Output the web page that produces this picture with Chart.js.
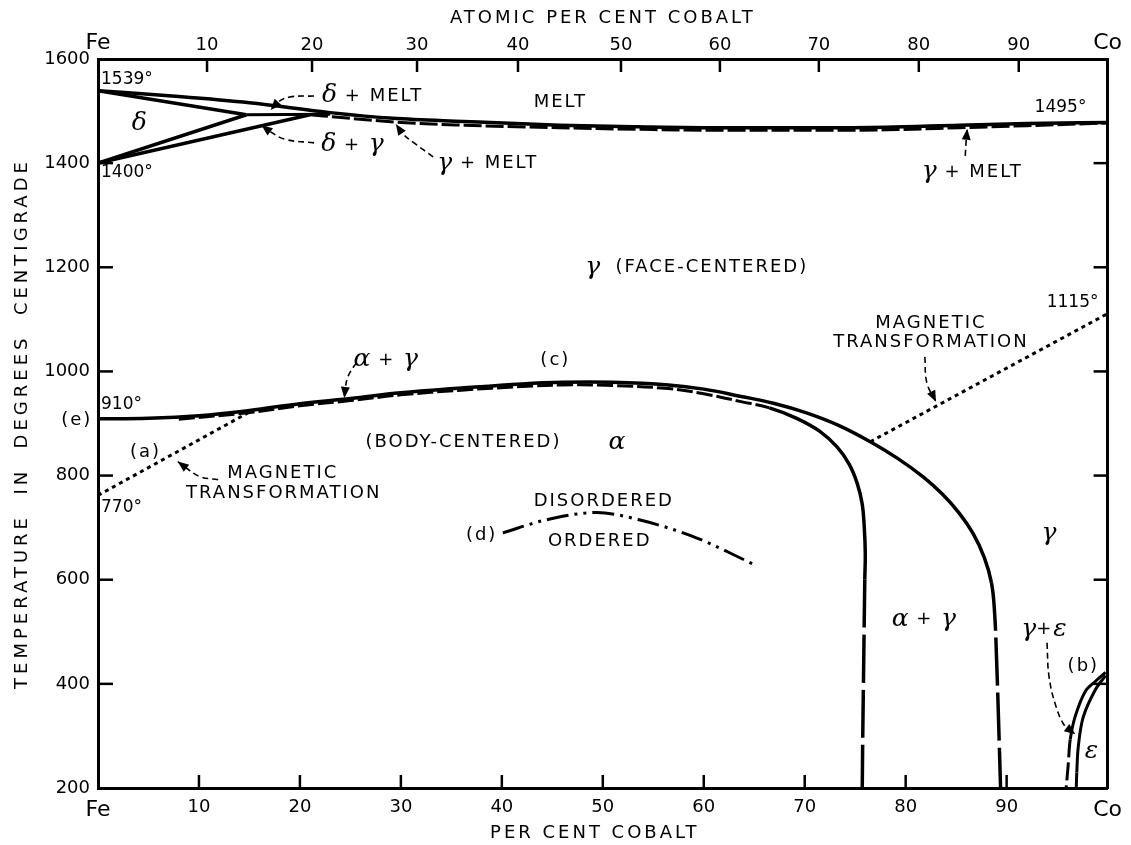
<!DOCTYPE html>
<html>
<head>
<meta charset="utf-8">
<script src="https://cdn.jsdelivr.net/npm/chart.js@4.4.1/dist/chart.umd.min.js"></script>
<style>
  html, body { margin: 0; padding: 0; background: #fff; }
  #wrap { width: 1131px; height: 845px; position: relative; }
</style>
</head>
<body>
<div id="wrap"><canvas id="phaseChart"></canvas></div>
<script>
// axes: per cent cobalt (weight) and temperature in degrees C
const bottomTicks = [0, 10, 20, 30, 40, 50, 60, 70, 80, 90, 100];
const bottomLabels = ['Fe', '10', '20', '30', '40', '50', '60', '70', '80', '90', 'Co'];
// atomic per cent ticks, placed on the weight per cent scale
const topTickPos = [0, 10.8, 21.2, 31.6, 41.6, 51.8, 61.6, 71.4, 81.3, 91.2, 100];
const topLabels = ['Fe', '10', '20', '30', '40', '50', '60', '70', '80', '90', 'Co'];
const tempTicks = [200, 400, 600, 800, 1000, 1200, 1400, 1600];

// melting region
const liquidusX = [0, 8, 15, 23, 29.2, 36.2, 45.7, 53.4, 62, 70.9, 78, 85.3, 92, 100];
const liquidusT = [1539, 1528, 1516, 1497, 1486, 1480, 1473, 1470, 1468, 1468, 1469, 1473, 1476, 1478];
const deltaSolidusX = [0, 14.7];
const deltaSolidusT = [1539, 1493];
const deltaUpperX = [0, 14.7];
const deltaUpperT = [1400, 1493];
const gammaLowerX = [0, 21];
const gammaLowerT = [1400, 1493];
const peritecticX = [14.7, 23];
const peritecticT = [1493, 1494];
const gammaSolidusX = [21, 25, 30, 36, 45.7, 53.4, 62, 70.9, 78, 85.3, 92, 100];
const gammaSolidusT = [1493, 1486, 1478, 1473, 1468, 1465, 1463, 1463, 1464, 1468, 1472, 1477];

// alpha / gamma boundaries (dashed where the line is uncertain)
const outerX = [0, 5, 10, 15, 20, 25, 30, 36, 42, 46, 51, 56.5, 60, 63.7, 66.9, 70.1, 73.3, 76.5, 79.2, 81.7, 83.6, 85.3, 86.7, 87.8, 88.5, 88.8, 89.0, 89.2, 89.4];
const outerT = [909, 910, 915, 925, 938, 948, 959, 968, 976, 979, 979, 974, 966, 952, 939, 921, 897, 865, 833, 798, 765, 728, 688, 642, 594, 539, 450, 330, 200];
const innerX = [8, 15, 20, 25, 30, 36, 42, 46, 51, 56.5, 60, 63.7, 66.5, 69.2, 71.5, 73.2, 74.4, 75.2, 75.7, 75.9, 76.0, 75.95, 75.85, 75.75, 75.7];
const innerT = [908, 921, 934, 944, 955, 964, 971, 974, 973, 967, 957, 942, 930, 910, 885, 855, 822, 785, 745, 700, 650, 600, 450, 300, 200];

// magnetic transformation
const magLeftX = [0, 15];
const magLeftT = [762, 922];
const magRightX = [76.5, 100];
const magRightT = [865, 1111];

// order - disorder
const orderX = [40.1, 44.4, 49.4, 53.6, 59.2, 65.0];
const orderT = [690, 715, 729, 715, 681, 629];

// epsilon
const epsOuterX = [99.8, 98.8, 97.8, 96.8, 96.3, 96.1, 95.9];
const epsOuterT = [422, 405, 386, 338, 293, 245, 201];
const epsInnerX = [99.8, 98.8, 97.6, 97.1, 96.95, 96.9];
const epsInnerT = [416, 389, 337, 280, 230, 201];

// leader arrows (last point = tip)
const arrows = [
  { x: [21.4, 19.0, 17.8, 17.1], t: [1529, 1527, 1517, 1502] },
  { x: [21.4, 18.5, 16.8, 16.2], t: [1439, 1446, 1464, 1473] },
  { x: [33.2, 31.3, 30.1, 29.5], t: [1412, 1439, 1458, 1475] },
  { x: [85.9, 86.0, 86.1], t: [1414, 1445, 1466] },
  { x: [25.6, 24.8, 24.5, 24.4], t: [1017, 992, 969, 949] },
  { x: [81.9, 82.1, 83.0], t: [1028, 978, 942] },
  { x: [11.9, 10.1, 8.7, 7.9], t: [792, 798, 815, 827] },
  { x: [94.0, 94.2, 94.9, 95.8, 96.8], t: [479, 414, 356, 318, 303] }
];

// text on the diagram: g = greek italic, s = lettering, n = numbers
const labels = [
  { parts: [['1539°', 'n']], x: 0.3, t: 1560, align: 'left' },
  { parts: [['1400°', 'n']], x: 0.3, t: 1381, align: 'left' },
  { parts: [['δ', 'g']], x: 4.1, t: 1477 },
  { parts: [['δ', 'g'], [' + MELT', 's']], x: 27.2, t: 1529 },
  { parts: [['δ', 'g'], [' + ', 's'], ['γ', 'g']], x: 25.2, t: 1435 },
  { parts: [['γ', 'g'], [' + MELT', 's']], x: 38.6, t: 1400 },
  { parts: [['MELT', 's']], x: 45.8, t: 1516 },
  { parts: [['1495°', 'n']], x: 97.9, t: 1506, align: 'right' },
  { parts: [['γ', 'g'], [' + MELT', 's']], x: 86.6, t: 1383 },
  { parts: [['γ', 'g'], ['  (FACE-CENTERED)', 's']], x: 59.3, t: 1199 },
  { parts: [['MAGNETIC', 's']], x: 82.5, t: 1093 },
  { parts: [['TRANSFORMATION', 's']], x: 82.5, t: 1055 },
  { parts: [['1115°', 'n']], x: 99.1, t: 1132, align: 'right' },
  { parts: [['α', 'g'], [' + ', 's'], ['γ', 'g']], x: 28.5, t: 1022 },
  { parts: [['(c)', 's']], x: 45.3, t: 1022 },
  { parts: [['910°', 'n']], x: 0.3, t: 936, align: 'left' },
  { parts: [['(e)', 's']], x: -2.1, t: 907 },
  { parts: [['(a)', 's']], x: 4.7, t: 844 },
  { parts: [['MAGNETIC', 's']], x: 18.3, t: 804 },
  { parts: [['TRANSFORMATION', 's']], x: 18.4, t: 765 },
  { parts: [['770°', 'n']], x: 0.3, t: 738, align: 'left' },
  { parts: [['(BODY-CENTERED)', 's']], x: 36.2, t: 863 },
  { parts: [['α', 'g']], x: 51.4, t: 863 },
  { parts: [['DISORDERED', 's']], x: 50.1, t: 750 },
  { parts: [['ORDERED', 's']], x: 49.7, t: 673 },
  { parts: [['(d)', 's']], x: 38.0, t: 686 },
  { parts: [['γ', 'g']], x: 94.2, t: 688 },
  { parts: [['α', 'g'], [' + ', 's'], ['γ', 'g']], x: 81.8, t: 523 },
  { parts: [['γ', 'g'], ['+', 's'], ['ε', 'g']], x: 93.7, t: 504 },
  { parts: [['(b)', 's']], x: 97.6, t: 433 },
  { parts: [['ε', 'g']], x: 98.4, t: 270 }
];

function pts(xs, ts) {
  return xs.map((x, i) => ({ x: x, y: ts[i] }));
}

function line(xs, ts, opts) {
  return Object.assign({
    data: pts(xs, ts),
    showLine: true,
    borderColor: '#000',
    borderWidth: 3.5,
    pointRadius: 0,
    tension: 0.35,
    fill: false
  }, opts || {});
}

const smooth = { cubicInterpolationMode: 'monotone' };

const datasets = [
  line(liquidusX, liquidusT, smooth),
  line(deltaSolidusX, deltaSolidusT, { tension: 0 }),
  line(deltaUpperX, deltaUpperT, { tension: 0 }),
  line(gammaLowerX, gammaLowerT, { tension: 0 }),
  line(peritecticX, peritecticT, { tension: 0, borderWidth: 3 }),
  line(gammaSolidusX, gammaSolidusT, Object.assign({ borderDash: [18, 4], borderWidth: 3 }, smooth)),
  line(outerX, outerT, {
    tension: 0.4,
    segment: { borderDash: c => c.p1.parsed.y < 590 ? [48, 7] : undefined }
  }),
  line(innerX, innerT, {
    tension: 0.4,
    segment: {
      borderDash: c => c.p1.parsed.y < 599 ? [48, 7] : (c.p1.parsed.x <= 66.5 ? [16, 4] : undefined),
      borderWidth: c => c.p1.parsed.x <= 66.5 ? 3 : undefined
    }
  }),
  line(magLeftX, magLeftT, { tension: 0, borderDash: [4, 4], borderWidth: 3 }),
  line(magRightX, magRightT, { tension: 0, borderDash: [4, 4], borderWidth: 3 }),
  line(orderX, orderT, Object.assign({ borderDash: [22, 6, 3, 6, 3, 6], borderWidth: 3 }, smooth)),
  line(epsOuterX, epsOuterT, {
    borderWidth: 3,
    segment: { borderDash: c => c.p1.parsed.y < 292 ? [18, 5] : undefined }
  }),
  line(epsInnerX, epsInnerT, {
    borderWidth: 3,
    segment: { borderDash: c => c.p1.parsed.y < 229 ? [18, 5] : undefined }
  })
];
arrows.forEach(a => datasets.push(line(a.x, a.t, { borderWidth: 1.6, borderDash: [6, 4], tension: 0.4 })));

const sansFont = '18px "DejaVu Sans"';
const numFont = '17px "DejaVu Sans"';
const greekFont = 'italic 25px "DejaVu Serif"';

function setFont(ctx, kind) {
  if (kind === 'g') { ctx.font = greekFont; ctx.letterSpacing = '0px'; }
  else if (kind === 'n') { ctx.font = numFont; ctx.letterSpacing = '0px'; }
  else { ctx.font = sansFont; ctx.letterSpacing = '2px'; }
}

function drawMixed(ctx, parts, px, py, align) {
  const widths = parts.map(p => { setFont(ctx, p[1]); return ctx.measureText(p[0]).width; });
  const total = widths.reduce((a, b) => a + b, 0);
  let cx = align === 'left' ? px : align === 'right' ? px - total : px - total / 2;
  ctx.textAlign = 'left';
  ctx.textBaseline = 'middle';
  parts.forEach((p, i) => {
    setFont(ctx, p[1]);
    ctx.fillText(p[0], cx, py);
    cx += widths[i];
  });
}

const annotate = {
  id: 'annotate',
  afterDatasetsDraw(chart) {
    const { ctx, chartArea: a, scales } = chart;
    const x = scales.x, y = scales.y, x2 = scales.x2;
    ctx.save();
    ctx.strokeStyle = '#000';
    ctx.fillStyle = '#000';
    ctx.lineWidth = 2.5;
    ctx.setLineDash([]);

    // ticks pointing into the plot
    const seg = (x0, y0, x1, y1) => { ctx.beginPath(); ctx.moveTo(x0, y0); ctx.lineTo(x1, y1); ctx.stroke(); };
    tempTicks.slice(1, -1).forEach(t => {
      const py = y.getPixelForValue(t);
      seg(a.left, py, a.left + 15, py);
      seg(a.right - 14, py, a.right, py);
    });
    bottomTicks.slice(1, -1).forEach(v => {
      const px = x.getPixelForValue(v);
      seg(px, a.bottom - 13, px, a.bottom);
    });
    topTickPos.slice(1, -1).forEach(v => {
      const px = x2.getPixelForValue(v);
      seg(px, a.top, px, a.top + 13);
    });

    // arrow heads
    arrows.forEach(ar => {
      const n = ar.x.length;
      const tx = x.getPixelForValue(ar.x[n - 1]), ty = y.getPixelForValue(ar.t[n - 1]);
      const fx = x.getPixelForValue(ar.x[n - 2]), fy = y.getPixelForValue(ar.t[n - 2]);
      const ang = Math.atan2(ty - fy, tx - fx);
      const len = 11, half = 4.5;
      ctx.beginPath();
      ctx.moveTo(tx, ty);
      ctx.lineTo(tx - len * Math.cos(ang) + half * Math.sin(ang), ty - len * Math.sin(ang) - half * Math.cos(ang));
      ctx.lineTo(tx - len * Math.cos(ang) - half * Math.sin(ang), ty - len * Math.sin(ang) + half * Math.cos(ang));
      ctx.closePath();
      ctx.fill();
    });

    // labels on the diagram
    labels.forEach(l => {
      drawMixed(ctx, l.parts, x.getPixelForValue(l.x), y.getPixelForValue(l.t), l.align || 'center');
    });

    // axis titles
    ctx.font = sansFont;
    ctx.letterSpacing = '3px';
    ctx.textAlign = 'center';
    ctx.textBaseline = 'middle';
    const midX = (a.left + a.right) / 2;
    ctx.fillText('ATOMIC PER CENT COBALT', midX, a.top - 41);
    ctx.fillText('PER CENT COBALT', midX - 8, a.bottom + 45);
    ctx.translate(22, (a.top + a.bottom) / 2);
    ctx.rotate(-Math.PI / 2);
    ctx.letterSpacing = '4px';
    ctx.fillText('TEMPERATURE  IN  DEGREES  CENTIGRADE', 0, 0);
    ctx.restore();
  }
};

const tickFont = c => {
  const v = c.tick ? c.tick.value : null;
  return { family: 'DejaVu Sans', size: (v === 0 || v === 100) ? 22 : 18 };
};

new Chart(document.getElementById('phaseChart'), {
  type: 'scatter',
  data: { datasets: datasets },
  options: {
    responsive: true,
    maintainAspectRatio: false,
    animation: false,
    events: [],
    layout: { padding: 0 },
    plugins: { legend: { display: false }, tooltip: { enabled: false } },
    scales: {
      x: {
        type: 'linear', position: 'bottom', min: 0, max: 100,
        afterBuildTicks: s => { s.ticks = bottomTicks.map(v => ({ value: v })); },
        afterFit: s => { s.height = 57; },
        grid: { display: false, drawTicks: false },
        border: { display: true, color: '#000', width: 3 },
        ticks: {
          color: '#000', padding: 9, maxRotation: 0, autoSkip: false, font: tickFont,
          callback: (v, i) => bottomLabels[i]
        }
      },
      x2: {
        type: 'linear', position: 'top', min: 0, max: 100,
        afterBuildTicks: s => { s.ticks = topTickPos.map(v => ({ value: v })); },
        afterFit: s => { s.height = 59; },
        grid: { display: false, drawTicks: false },
        border: { display: true, color: '#000', width: 3 },
        ticks: {
          color: '#000', padding: 3, maxRotation: 0, autoSkip: false, font: tickFont,
          callback: (v, i) => topLabels[i]
        }
      },
      y: {
        type: 'linear', position: 'left', min: 200, max: 1600,
        afterBuildTicks: s => { s.ticks = tempTicks.map(v => ({ value: v })); },
        afterFit: s => { s.width = 98; },
        grid: { display: false, drawTicks: false },
        border: { display: true, color: '#000', width: 3 },
        ticks: {
          color: '#000', padding: 8, autoSkip: false,
          font: { family: 'DejaVu Sans', size: 18 },
          callback: v => String(v)
        }
      },
      y2: {
        type: 'linear', position: 'right', min: 200, max: 1600,
        afterFit: s => { s.width = 22; },
        grid: { display: false, drawTicks: false },
        border: { display: true, color: '#000', width: 3 },
        ticks: { display: false }
      }
    }
  },
  plugins: [annotate]
});
</script>
</body>
</html>
